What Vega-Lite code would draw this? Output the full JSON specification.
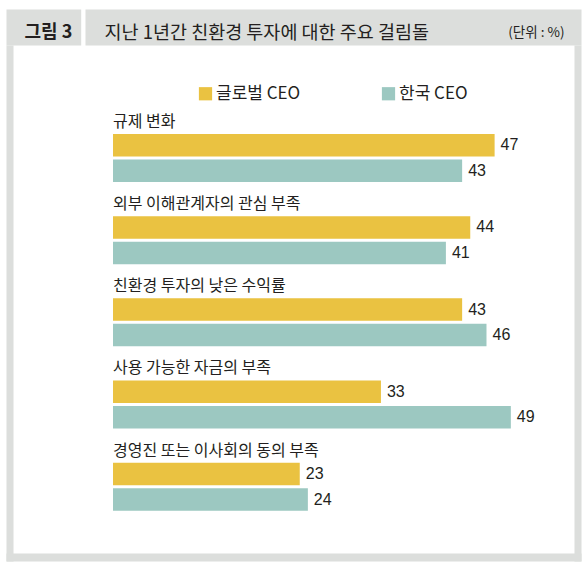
{
  "$schema": "https://vega.github.io/schema/vega-lite/v6.json",
  "autosize": {"type": "none"},
  "padding": {"left": 6, "top": 45, "right": 7, "bottom": 8},
  "width": 575,
  "height": 516,
  "background": "white",
  "data": {
    "values": [
      {"category": "규제 변화", "series": "글로벌 CEO", "value": 47},
      {"category": "규제 변화", "series": "한국 CEO", "value": 43},
      {"category": "외부 이해관계자의 관심 부족", "series": "글로벌 CEO", "value": 44},
      {"category": "외부 이해관계자의 관심 부족", "series": "한국 CEO", "value": 41},
      {"category": "친환경 투자의 낮은 수익률", "series": "글로벌 CEO", "value": 43},
      {"category": "친환경 투자의 낮은 수익률", "series": "한국 CEO", "value": 46},
      {"category": "사용 가능한 자금의 부족", "series": "글로벌 CEO", "value": 33},
      {"category": "사용 가능한 자금의 부족", "series": "한국 CEO", "value": 49},
      {"category": "경영진 또는 이사회의 동의 부족", "series": "글로벌 CEO", "value": 23},
      {"category": "경영진 또는 이사회의 동의 부족", "series": "한국 CEO", "value": 24}
    ]
  },
  "layer": [
    {
      "mark": {"type": "bar", "cornerRadius": 0},
      "encoding": {
        "x": {
          "field": "value",
          "type": "quantitative",
          "scale": {"domain": [-13.18, 57.64], "nice": false, "zero": false},
          "axis": {
            "orient": "top",
            "offset": 18,
            "domainWidth": 36,
            "domainColor": "#dcdedc",
            "domainDash": [74.7, 4.3, 700],
            "labels": false,
            "ticks": false,
            "grid": false,
            "title": "(단위 : %)",
            "titleX": 558,
            "titleY": 5,
            "titleAlign": "right",
            "titleBaseline": "middle",
            "titleFont": "Noto Sans CJK KR",
            "titleFontSize": 13.5,
            "titleFontWeight": "normal",
            "titleColor": "#231f20"
          }
        },
        "x2": {"datum": 0},
        "y": {
          "field": "category",
          "type": "nominal",
          "sort": null,
          "scale": {"paddingInner": 0, "paddingOuter": 0.6387, "align": 0.563},
          "axis": {
            "orient": "left",
            "offset": -3.5,
            "domainWidth": 7,
            "domainColor": "#dcdedc",
            "labels": false,
            "ticks": false,
            "grid": false,
            "title": "그림 3",
            "titleAngle": 0,
            "titleX": 14.5,
            "titleY": -13,
            "titleAlign": "left",
            "titleBaseline": "middle",
            "titleFont": "Noto Sans CJK KR",
            "titleFontSize": 18,
            "titleFontWeight": "bold",
            "titleColor": "#231f20"
          }
        },
        "yOffset": {
          "field": "series",
          "type": "nominal",
          "scale": {"domain": ["label", "글로벌 CEO", "한국 CEO"], "paddingInner": 0.118, "paddingOuter": 0.171}
        },
        "color": {
          "field": "series",
          "type": "nominal",
          "scale": {"domain": ["글로벌 CEO", "한국 CEO"], "range": ["#eac241", "#9cc8c1"]},
          "legend": {
            "title": null,
            "orient": "none",
            "direction": "horizontal",
            "legendX": 191,
            "legendY": 40,
            "padding": 0,
            "symbolType": "square",
            "symbolSize": 175,
            "symbolStrokeWidth": 0,
            "symbolOpacity": 1,
            "labelOffset": 2,
            "columnPadding": 79,
            "labelFont": "Liberation Sans Narrow, Noto Sans CJK KR",
            "labelFontSize": 17,
            "labelColor": "#231f20"
          }
        }
      }
    },
    {
      "mark": {
        "type": "text",
        "align": "left",
        "baseline": "middle",
        "dx": 6,
        "font": "Liberation Sans Narrow, Liberation Sans",
        "fontSize": 16,
        "color": "#231f20"
      },
      "encoding": {
        "x": {
          "field": "value",
          "type": "quantitative",
          "axis": {
            "orient": "bottom",
            "offset": -4,
            "domainWidth": 8,
            "domainColor": "#dcdedc",
            "labels": false,
            "ticks": false,
            "grid": false,
            "title": null
          }
        },
        "y": {
          "field": "category",
          "type": "nominal",
          "sort": null,
          "axis": {
            "orient": "right",
            "offset": -3.5,
            "domainWidth": 7,
            "domainColor": "#dcdedc",
            "labels": false,
            "ticks": false,
            "grid": false,
            "title": "지난 1년간 친환경 투자에 대한 주요 걸림돌",
            "titleAngle": 0,
            "titleX": -473.5,
            "titleY": -13,
            "titleAlign": "left",
            "titleBaseline": "middle",
            "titleFont": "Noto Sans CJK KR",
            "titleFontSize": 18.5,
            "titleFontWeight": "normal",
            "titleColor": "#231f20"
          }
        },
        "yOffset": {
          "field": "series",
          "type": "nominal",
          "scale": {"domain": ["label", "글로벌 CEO", "한국 CEO"], "paddingInner": 0.118, "paddingOuter": 0.171}
        },
        "text": {"field": "value", "type": "quantitative"}
      }
    },
    {
      "transform": [{"filter": "datum.series === '글로벌 CEO'"}],
      "mark": {
        "type": "text",
        "align": "left",
        "baseline": "middle",
        "dy": 2,
        "font": "Noto Sans CJK KR",
        "fontSize": 16,
        "color": "#231f20"
      },
      "encoding": {
        "x": {"datum": 0, "type": "quantitative", "axis": null},
        "y": {"field": "category", "type": "nominal", "sort": null, "axis": null},
        "yOffset": {
          "datum": "label",
          "type": "nominal",
          "scale": {"domain": ["label", "글로벌 CEO", "한국 CEO"], "paddingInner": 0.118, "paddingOuter": 0.171}
        },
        "text": {"field": "category", "type": "nominal"}
      }
    }
  ],
  "resolve": {"axis": {"x": "independent", "y": "independent"}},
  "config": {
    "view": {"fill": "white", "stroke": null},
    "axis": {"domainCap": "butt"}
  }
}
